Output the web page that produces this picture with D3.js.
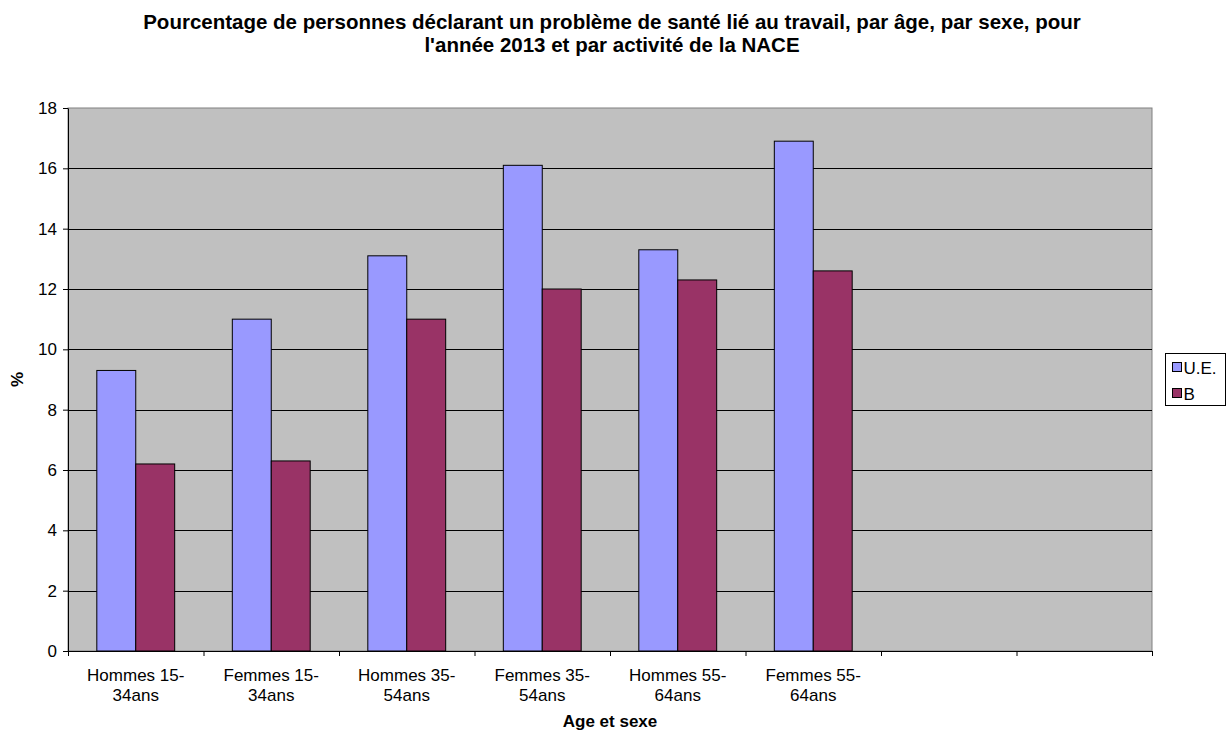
<!DOCTYPE html>
<html>
<head>
<meta charset="utf-8">
<script src="https://cdn.jsdelivr.net/npm/d3@7"></script>
<style>
  body { margin: 0; background: #fff; }
  text { font-family: "Liberation Sans", Arial, sans-serif; }
</style>
</head>
<body>
<svg id="chart" width="1228" height="734"></svg>
<script>
const categories = [
  ["Hommes 15-", "34ans"],
  ["Femmes 15-", "34ans"],
  ["Hommes 35-", "54ans"],
  ["Femmes 35-", "54ans"],
  ["Hommes 55-", "64ans"],
  ["Femmes 55-", "64ans"],
  [],
  []
];
const seriesNames = ["U.E.", "B"];
const ueValues = [9.3, 11.0, 13.1, 16.1, 13.3, 16.9];
const bValues = [6.2, 6.3, 11.0, 12.0, 12.3, 12.6];
const yTicks = [0, 2, 4, 6, 8, 10, 12, 14, 16, 18];

const colors = { "U.E.": "#9999ff", "B": "#993366" };

const svg = d3.select("#chart");
const margin = { top: 108, right: 76, bottom: 83, left: 68 };
const width = 1228 - margin.left - margin.right,
  height = 734 - margin.top - margin.bottom;

const g = svg.append("g").attr("transform", `translate(${margin.left},${margin.top})`);

const x0 = d3.scaleBand().domain(d3.range(categories.length)).range([0, width]).paddingInner(0).paddingOuter(0);
const x1 = d3.scaleBand().domain(seriesNames).range([0, x0.bandwidth()]).paddingInner(0).paddingOuter(0.74);
const y = d3.scaleLinear().domain([0, 18]).range([height, 0]);

// plot background
g.append("rect")
  .attr("width", width).attr("height", height)
  .attr("fill", "#c0c0c0")
  .attr("stroke", "#808080").attr("stroke-width", 1);

// gridlines
g.selectAll(".grid")
  .data(yTicks.filter(d => d > 0 && d < 18))
  .enter().append("line")
  .attr("x1", 0).attr("x2", width)
  .attr("y1", d => Math.round(y(d)) + 0.5).attr("y2", d => Math.round(y(d)) + 0.5)
  .attr("stroke", "#000").attr("stroke-width", 1);

// bars
const rows = ueValues.map((v, i) => ({ i, "U.E.": v, "B": bValues[i] }));
const grp = g.selectAll(".cat").data(rows).enter().append("g")
  .attr("transform", d => `translate(${x0(d.i)},0)`);
grp.selectAll("rect")
  .data(d => seriesNames.map(k => ({ k, v: d[k] })))
  .enter().append("rect")
  .attr("x", d => x1(d.k))
  .attr("y", d => y(d.v))
  .attr("width", x1.bandwidth())
  .attr("height", d => height - y(d.v))
  .attr("fill", d => colors[d.k])
  .attr("stroke", "#000").attr("stroke-width", 1);

// y axis
const yAxis = g.append("g").call(d3.axisLeft(y).tickValues(yTicks).tickSize(5).tickSizeOuter(0));
yAxis.select(".domain").attr("stroke", "#000");
yAxis.selectAll("text").attr("font-size", 17).attr("fill", "#000").attr("dx", "-3");

// x axis
const xAxis = g.append("g").attr("transform", `translate(0,${height})`)
  .call(d3.axisBottom(d3.scaleLinear().domain([0, categories.length]).range([0, width]))
    .tickValues(d3.range(categories.length + 1)).tickSize(5).tickSizeOuter(0).tickFormat(""));
xAxis.select(".domain").attr("stroke", "#000");

// category labels
const lbl = g.selectAll(".xl").data(categories).enter().append("text")
  .attr("x", (d, i) => x0(i) + x0.bandwidth() / 2)
  .attr("y", height + 30)
  .attr("text-anchor", "middle")
  .attr("font-size", 17)
  .attr("fill", "#000");
lbl.selectAll("tspan").data(d => d).enter().append("tspan")
  .attr("x", function () { return d3.select(this.parentNode).attr("x"); })
  .attr("dy", (d, i) => i === 0 ? 0 : 20)
  .text(d => d);

// axis titles
svg.append("text")
  .attr("x", margin.left + width / 2).attr("y", 727)
  .attr("text-anchor", "middle")
  .attr("font-size", 17).attr("font-weight", "bold")
  .text("Age et sexe");
svg.append("text")
  .attr("transform", `translate(23,${margin.top + height / 2}) rotate(-90)`)
  .attr("text-anchor", "middle")
  .attr("font-size", 17).attr("font-weight", "bold")
  .text("%");

// title
const title = svg.append("text")
  .attr("x", 612).attr("y", 29)
  .attr("text-anchor", "middle")
  .attr("font-size", 20.5).attr("font-weight", "bold");
title.append("tspan").attr("x", 612).text("Pourcentage de personnes déclarant un problème de santé lié au travail, par âge, par sexe, pour");
title.append("tspan").attr("x", 612).attr("dy", 23).text("l'année 2013 et par activité de la NACE");

// legend
const legend = svg.append("g").attr("transform", "translate(1165.5,353.5)");
legend.append("rect")
  .attr("width", 60).attr("height", 52)
  .attr("fill", "#fff").attr("stroke", "#000");
seriesNames.forEach((k, i) => {
  legend.append("rect")
    .attr("x", 7).attr("y", 9 + i * 26)
    .attr("width", 9).attr("height", 9)
    .attr("fill", colors[k]).attr("stroke", "#000");
  legend.append("text")
    .attr("x", 18).attr("y", 20 + i * 26)
    .attr("font-size", 17)
    .text(k);
});
</script>
</body>
</html>
